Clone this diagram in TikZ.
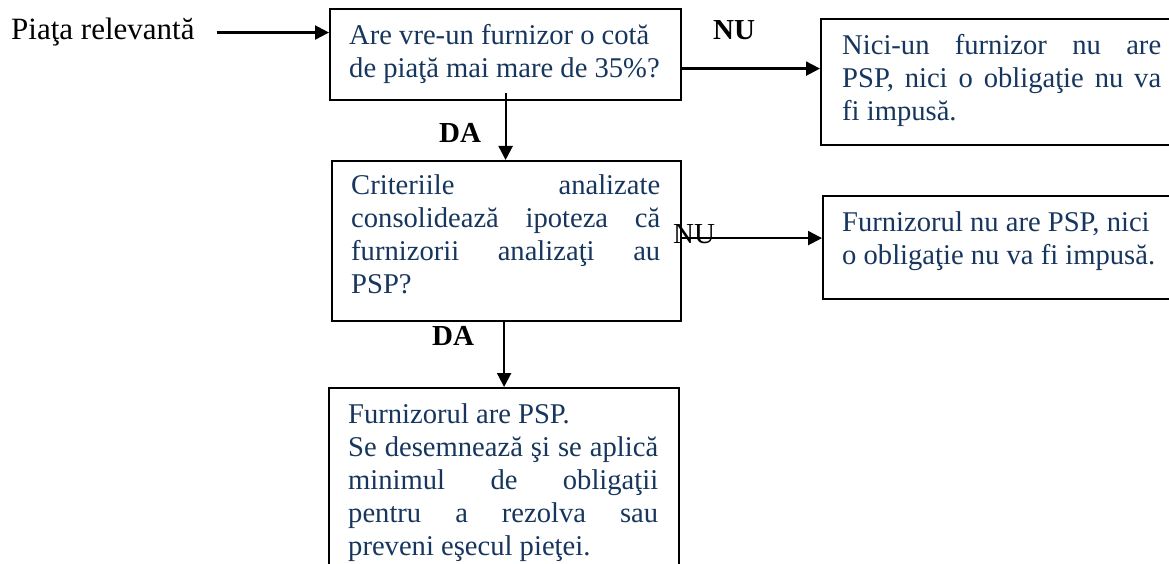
\documentclass[tikz,border=0pt]{standalone}
\usepackage{fontspec}
\setmainfont{Liberation Serif}
\usetikzlibrary{arrows.meta}
\definecolor{txtblue}{RGB}{23,54,93}
\tikzset{
  boxst/.style={draw=black, line width=2.2pt, rectangle, inner sep=0pt, anchor=north west},
  bodytxt/.style={inner sep=0pt, anchor=base west, align=left, text=txtblue, font=\fontsize{28.6}{33}\selectfont},
  lbl/.style={inner sep=0pt, anchor=base west, font=\fontsize{29}{33}\selectfont\bfseries},
  lblr/.style={inner sep=0pt, anchor=base west, font=\fontsize{29}{33}\selectfont},
  arr/.style={line width=2.2pt, -{Triangle[length=14pt, width=14pt]}}
}
\begin{document}
\begin{tikzpicture}[x=1pt, y=-1pt]
\useasboundingbox (0,0) rectangle (1169,564);
\clip (0,0) rectangle (1169,564);
\fill[white] (0,0) rectangle (1169,564);

% boxes
\node[boxst, minimum width=351pt, minimum height=91pt] (box1) at (329,8) {};
\node[boxst, minimum width=355pt, minimum height=126pt] (box2) at (820,18) {};
\node[boxst, minimum width=349pt, minimum height=160pt] (box3) at (331,160) {};
\node[boxst, minimum width=353pt, minimum height=103pt] (box4) at (822,195) {};
\node[boxst, minimum width=350pt, minimum height=220pt] (box5) at (328,387) {};

% texts (anchored at the baseline of their last line)
\node[inner sep=0pt, anchor=base west, font=\fontsize{31}{33}\selectfont] (piata) at (11,40) {Piaţa relevantă};

\node[bodytxt] (t1) at (349,78) {Are vre-un furnizor o cotă\\de piaţă mai mare de 35\%?};
\node[bodytxt] (t2) at (842,121) {\makebox[319pt][s]{Nici-un furnizor nu are}\\\makebox[319pt][s]{PSP, nici o obligaţie nu va}\\fi impusă.};
\node[bodytxt] (t3) at (351,293) {\makebox[309pt][s]{Criteriile analizate}\\\makebox[309pt][s]{consolidează ipoteza că}\\\makebox[309pt][s]{furnizorii analizaţi au}\\PSP?};
\node[bodytxt] (t4) at (842,264) {Furnizorul nu are PSP, nici\\o obligaţie nu va fi impusă.};
\node[bodytxt] (t5) at (348,555) {Furnizorul are PSP.\\\makebox[310pt][s]{Se desemnează şi se aplică}\\\makebox[310pt][s]{minimul de obligaţii}\\\makebox[310pt][s]{pentru a rezolva sau}\\preveni eşecul pieţei.};

% labels
\node[lbl] (nu1) at (713,40) {NU};
\node[lbl] (da1) at (439,143) {DA};
\node[lblr] (nu2) at (673,243) {NU};
\node[lbl] (da2) at (432,345) {DA};

% connector start points
\coordinate (p0) at ([xshift=22pt]piata.east);
\coordinate (b1s) at ([yshift=8pt]box1.south);
\coordinate (b1e) at ([yshift=-14pt]box1.east);
\coordinate (b3e) at ([yshift=3pt]box3.east);

% connectors
\draw[arr] (p0) -- (box1.west |- p0);
\draw[arr] (b1s) -- (b1s |- box3.north);
\draw[arr] (b1e) -- (box2.west |- b1e);
\draw[arr] (b3e) -- (box4.west |- b3e);
\draw[arr] (box3.south -| box5.north) -- (box5.north);
\end{tikzpicture}
\end{document}
